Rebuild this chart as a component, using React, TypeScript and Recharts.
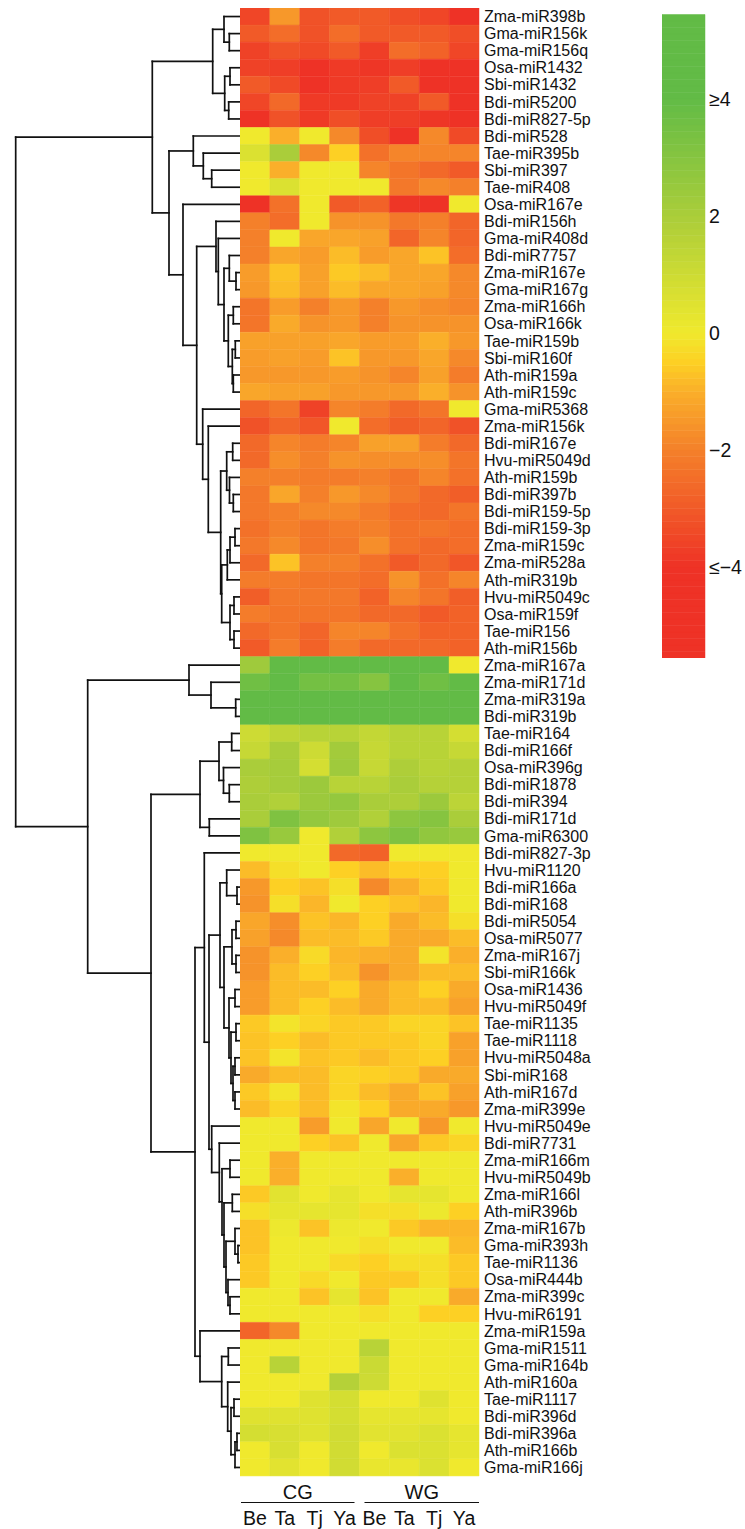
import React from "react";
import {
  BarChart,
  Bar,
  Cell,
  XAxis,
  YAxis,
  ScatterChart,
  Scatter,
  ComposedChart,
  ReferenceLine,
  ReferenceArea,
} from "recharts";

const FONT = '"Liberation Sans", Arial, Helvetica, sans-serif';

const groups = ["CG", "WG"];
const stages = ["Be", "Ta", "Tj", "Ya"];

const mirnas = [
  "Zma-miR398b", "Gma-miR156k", "Gma-miR156q", "Osa-miR1432", "Sbi-miR1432",
  "Bdi-miR5200", "Bdi-miR827-5p", "Bdi-miR528", "Tae-miR395b", "Sbi-miR397",
  "Tae-miR408", "Osa-miR167e", "Bdi-miR156h", "Gma-miR408d", "Bdi-miR7757",
  "Zma-miR167e", "Gma-miR167g", "Zma-miR166h", "Osa-miR166k", "Tae-miR159b",
  "Sbi-miR160f", "Ath-miR159a", "Ath-miR159c", "Gma-miR5368", "Zma-miR156k",
  "Bdi-miR167e", "Hvu-miR5049d", "Ath-miR159b", "Bdi-miR397b", "Bdi-miR159-5p",
  "Bdi-miR159-3p", "Zma-miR159c", "Zma-miR528a", "Ath-miR319b", "Hvu-miR5049c",
  "Osa-miR159f", "Tae-miR156", "Ath-miR156b", "Zma-miR167a", "Zma-miR171d",
  "Zma-miR319a", "Bdi-miR319b", "Tae-miR164", "Bdi-miR166f", "Osa-miR396g",
  "Bdi-miR1878", "Bdi-miR394", "Bdi-miR171d", "Gma-miR6300", "Bdi-miR827-3p",
  "Hvu-miR1120", "Bdi-miR166a", "Bdi-miR168", "Bdi-miR5054", "Osa-miR5077",
  "Zma-miR167j", "Sbi-miR166k", "Osa-miR1436", "Hvu-miR5049f", "Tae-miR1135",
  "Tae-miR1118", "Hvu-miR5048a", "Sbi-miR168", "Ath-miR167d", "Zma-miR399e",
  "Hvu-miR5049e", "Bdi-miR7731", "Zma-miR166m", "Hvu-miR5049b", "Zma-miR166l",
  "Ath-miR396b", "Zma-miR167b", "Gma-miR393h", "Tae-miR1136", "Osa-miR444b",
  "Zma-miR399c", "Hvu-miR6191", "Zma-miR159a", "Gma-miR1511", "Gma-miR164b",
  "Ath-miR160a", "Tae-miR1117", "Bdi-miR396d", "Bdi-miR396a", "Ath-miR166b",
  "Gma-miR166j",
];

// log2 fold change, columns: CG Be Ta Tj Ya, WG Be Ta Tj Ya
const expr = [
  [-3.5, -1.5, -3.2, -3, -3, -3.3, -3.5, -4],
  [-3, -2.5, -3.2, -2.5, -3, -3, -3, -3.3],
  [-3.6, -3.2, -3.4, -3, -3.7, -2.5, -2.8, -3.5],
  [-3.6, -3.7, -4.3, -3.8, -3.9, -3.7, -4.2, -4.5],
  [-3, -3.4, -4.3, -3.8, -3.7, -3, -4, -4.5],
  [-3.5, -2.6, -3.8, -3.8, -3.6, -3.6, -3, -4.3],
  [-4, -3.2, -3.8, -3.3, -3.7, -3.7, -3.9, -4.3],
  [0, -1, 0, -1.8, -3.3, -4.3, -1.8, -3.4],
  [0.6, 2, -1.8, -0.5, -2.4, -1.9, -1.9, -1.9],
  [0, -1, 0, 0, -1.9, -2.3, -2.6, -3],
  [0, 0.6, 0, 0, 0, -2.2, -1.8, -2],
  [-4, -2.4, 0, -3, -2.8, -3.9, -4, 0],
  [-2, -2.5, 0, -1.6, -1.6, -2.2, -2, -2.7],
  [-2, 0, -1.2, -1.2, -1.3, -2.7, -1.9, -2.7],
  [-2, -1.2, -1.4, -0.8, -1.4, -1.2, -0.7, -2.5],
  [-1.4, -0.7, -1.3, -0.6, -0.8, -1.2, -1.2, -1.8],
  [-1.5, -0.8, -1.3, -0.8, -1.2, -1.2, -1.3, -1.8],
  [-2.3, -1.4, -2, -1.5, -2, -1.5, -1.7, -1.9],
  [-2.3, -1.1, -1.6, -1.5, -2, -1.6, -1.6, -1.6],
  [-1.3, -1.3, -1.3, -1.2, -1.4, -1.4, -1, -1.5],
  [-1.4, -1.3, -1.4, -0.7, -1.5, -1.5, -1.2, -1.8],
  [-1.5, -1.5, -1.5, -1.4, -1.6, -1.9, -1.3, -2.1],
  [-1.2, -1.3, -1.3, -1.5, -1.5, -1.5, -1, -1.6],
  [-2.7, -2.3, -3.6, -1.9, -2.1, -2.6, -2.3, 0],
  [-3.2, -2.7, -3.1, 0, -2.5, -2.9, -2.7, -3.2],
  [-2.6, -1.9, -2.1, -1.9, -1.3, -1.3, -2.1, -2.6],
  [-2.6, -1.7, -2, -1.6, -1.7, -1.7, -1.7, -2.3],
  [-2, -2, -2.1, -2.1, -2, -2.3, -1.9, -2.4],
  [-2.2, -1.2, -2, -1.5, -1.8, -2.2, -2.6, -2.9],
  [-2.2, -2, -1.8, -1.8, -2.1, -2.5, -2.6, -2.3],
  [-2.4, -2, -2.3, -2.1, -2, -2.4, -2.3, -2.5],
  [-2.2, -1.8, -2.3, -2.2, -1.7, -2.4, -2.6, -2.5],
  [-2.6, -0.7, -2, -2, -2.4, -3, -2.6, -3.1],
  [-2.1, -2.1, -2.3, -2.3, -2.5, -1.6, -2.4, -1.9],
  [-2.9, -2.2, -2.2, -2.2, -2.8, -1.9, -2.3, -2.9],
  [-2.1, -2.3, -2.3, -2.3, -2.6, -2.6, -3, -2.8],
  [-2.6, -2.3, -2.7, -1.9, -1.9, -2.4, -2.8, -2.8],
  [-3, -2.1, -2.8, -2.1, -2.6, -2.6, -2.6, -2.8],
  [2.3, 4, 4, 4, 4, 4, 4, 0],
  [3.6, 4, 3.5, 3.5, 3, 4, 3.6, 4],
  [4, 4, 4, 4, 4, 4, 4, 4],
  [4, 4, 4, 4, 4, 4, 4, 4],
  [1, 1.4, 1.6, 1.6, 1.3, 1.6, 1.6, 0.8],
  [1.2, 2, 1, 2.2, 1.2, 1.6, 1.6, 1.2],
  [2, 2.1, 0.8, 2.3, 1.2, 1.9, 1.6, 1.7],
  [1.9, 2.1, 2.4, 1.6, 1.6, 2, 1.7, 1.7],
  [2, 1.8, 2.4, 2.6, 2, 1.9, 2.4, 1.5],
  [2, 3.2, 2.6, 2.3, 1.8, 2.8, 3, 2],
  [3.2, 2.5, 0, 1.8, 2.8, 3.2, 2.7, 2.5],
  [0, 0, 0, -2.6, -2.8, 0, 0, 0],
  [-0.8, -0.2, 0, -0.5, -0.8, -0.5, -0.5, 0],
  [-1.5, -0.5, -0.7, -0.2, -1.8, -1, -0.6, 0],
  [-1.6, -0.2, -0.9, 0, -0.5, -0.7, -0.9, 0],
  [-1.2, -1.7, -0.7, -0.9, -0.5, -1.1, -0.8, -0.2],
  [-1.3, -1.8, -0.8, -0.8, -0.6, -1.1, -1.1, -0.8],
  [-1.6, -1, -0.3, -0.9, -1, -1.1, -0.1, -1],
  [-1.6, -0.8, -0.5, -0.8, -1.6, -1.1, -0.8, -0.8],
  [-1.4, -0.8, -0.8, -0.5, -1.1, -0.8, -0.5, -1.1],
  [-1.4, -0.8, -0.5, -0.8, -1.1, -0.8, -0.8, -1.3],
  [-0.6, -0.1, -0.4, -0.6, -0.6, -0.4, -0.4, -0.7],
  [-0.7, -0.5, -0.8, -0.6, -0.6, -0.6, -0.4, -1.3],
  [-0.7, -0.1, -0.7, -0.6, -0.8, -0.6, -0.5, -1.3],
  [-1.1, -0.8, -0.8, -0.4, -0.5, -0.6, -1.1, -1.1],
  [-0.6, -0.1, -0.8, -0.4, -0.8, -1.1, -0.7, -1.3],
  [-0.8, -0.4, -0.8, -0.1, -0.5, -1.1, -1.1, -1.5],
  [0, 0, -1.4, 0, -1.2, 0, -1.5, 0],
  [0, 0, -0.5, -0.7, 0, -1.2, -0.6, -0.4],
  [0, -1, 0, 0, 0, 0, 0, 0],
  [0, -1, 0, 0, 0, -1, 0, 0],
  [-0.6, 0.4, 0, 0.3, 0, 0.3, 0.3, 0],
  [-0.2, 0.3, 0.3, 0.3, -0.2, -0.2, 0.1, -0.5],
  [-0.7, 0.1, -0.7, 0.1, 0, -0.6, -0.9, -0.9],
  [-0.7, 0, 0, 0, -0.2, 0, 0, -0.8],
  [-0.6, 0, 0, -0.3, -0.5, -0.2, -0.2, -0.6],
  [-0.6, 0, -0.3, 0, -0.6, -0.6, -0.2, -0.6],
  [0, 0, -0.7, 0.3, -0.7, 0, 0, -1.1],
  [0, 0, 0, 0, -0.2, 0, -0.5, -0.5],
  [-2.7, -1.8, 0, 0, 0, 0, 0, 0],
  [0, 0, 0, 0, 1.6, 0, 0, 0],
  [0, 1.6, 0, 0, 1.1, 0, 0, 0],
  [0, 0, 0, 1.7, 1, 0, 0, 0],
  [0, 0, 0.5, 0.8, 0, 0, 0.5, 0],
  [0.5, 0.5, 0.5, 0.8, 0.3, 0.3, 0.3, 0],
  [0.8, 0.7, 0.5, 0.9, 0.4, 0.4, 0.6, 0.3],
  [0, 0.7, 0, 0.9, 0, 0.6, 0.6, 0.3],
  [0, 0.4, 0, 0.9, 0.2, 0.2, 0.6, 0],
];

// row clustering: [left, right, height]; leaves are row numbers (1-based)
const tree = [
  [
    [
      [[1, [2, 3, 10.7], 16], [[4, 5, 10], [6, 7, 11.3], 15.3], 27.3],
      [
        [8, [9, [10, 11, 28.3], 36.7], 46.7],
        [
          12,
          [
            [13, [14, [[15, [16, 17, 4], 10.7], [[18, 19, 6.7], [[20, 21, 4.7], [22, 23, 6.7], 7.7], 11.7], 16], 21.7], 24],
            [
              24,
              [
                25,
                [
                  [[26, 27, 7.3], [28, [29, 30, 6.7], 10.5], 13.3],
                  [[[[31, 32, 5], 33, 10], 34, 12.7], [[35, 36, 6], [37, 38, 6], 10], 18.3],
                  19.3,
                ],
                31.7,
              ],
              37.3,
            ],
            43.3,
          ],
          57,
        ],
        71,
      ],
      87.7,
    ],
    [
      [39, [40, [41, 42, 4.3], 29], 51],
      [
        [[[43, 44, 8.3], [45, [46, 47, 10.7], 16.5], 21], [48, 49, 30.7], 40],
        [
          [
            50,
            [
              [
                [51, [52, 53, 3], 13.3],
                [[[54, 55, 4], [56, 57, 4], 8], [[58, 59, 5], [[60, 61, 4], [[62, 63, 5], [64, 65, 5], 7], 9], 11], 16],
                20,
              ],
              [66, [67, [[68, 69, 10], [[70, 71, 7.7], [[72, [73, 74, 2], 5], [75, [76, 77, 10], 12], 14], 16], 18], 20.7], 28.3],
              31,
            ],
            35.7,
          ],
          [78, [[79, 80, 11.7], [81, [[82, 83, 6], [[84, 85, 3], 86, 5], 9], 12.3], 18.3], 40],
          45,
        ],
        89,
      ],
      152.3,
    ],
    224.3,
  ],
];

const colorStops = [
  [-4, [238, 50, 38]],
  [-3, [241, 90, 40]],
  [-2, [244, 128, 42]],
  [-1, [250, 175, 42]],
  [-0.5, [253, 208, 36]],
  [0, [240, 233, 45]],
  [2, [170, 205, 58]],
  [4, [98, 187, 70]],
];

function colorFor(v: number) {
  const c = Math.max(-4, Math.min(4, v));
  for (let i = 0; i < colorStops.length - 1; i++) {
    const [a, ca] = colorStops[i] as [number, number[]];
    const [b, cb] = colorStops[i + 1] as [number, number[]];
    if (c >= a && c <= b) {
      const t = (c - a) / (b - a);
      const rgb = ca.map((x, k) => Math.round(x + (cb[k] - x) * t));
      return `rgb(${rgb.join(",")})`;
    }
  }
  return "rgb(98,187,70)";
}

function dendroSegments(node: any, out: any[]) {
  if (typeof node === "number") return { y: node - 0.5, h: 0 };
  const [l, r, h] = node;
  const a = dendroSegments(l, out);
  const b = dendroSegments(r, out);
  out.push([{ x: a.h, y: a.y }, { x: h, y: a.y }]);
  out.push([{ x: b.h, y: b.y }, { x: h, y: b.y }]);
  out.push([{ x: h, y: a.y }, { x: h, y: b.y }]);
  return { y: (a.y + b.y) / 2, h };
}

const segments: any[] = [];
dendroSegments(tree[0], segments);

const columns = groups.flatMap((g) => stages.map((s) => `${g}-${s}`));
const heatData = mirnas.map((name) => {
  const row: any = { name };
  columns.forEach((c) => (row[c] = 1));
  return row;
});
const leafPoints = mirnas.map((_, i) => ({ h: 0, y: i + 0.5 }));

const PLOT_W = 239;
const colW = PLOT_W / columns.length;

const ColTick = (props: any) => {
  const { x, y, payload } = props;
  const j = Math.floor(payload.value);
  const stage = stages[j % stages.length];
  const first = j % stages.length === 0;
  const gi = Math.floor(j / stages.length);
  const left = x - colW / 2 + (gi === 0 ? 1 : 5);
  const right = x - colW / 2 + colW * stages.length - (gi === 0 ? 5 : 0);
  return (
    <g>
      {first && (
        <>
          <text x={(left + right) / 2} y={y + 16} textAnchor="middle" dominantBaseline="central" fontSize={20} fill="#111">
            {groups[gi]}
          </text>
          <line x1={left} x2={right} y1={y + 26.5} y2={y + 26.5} stroke="#111" strokeWidth={1.2} />
        </>
      )}
      <text x={x} y={y + 42} textAnchor="middle" dominantBaseline="central" fontSize={19.5} fill="#111">
        {stage}
      </text>
    </g>
  );
};

const legendTicks = [4, 2, 0, -2, -4];
const legendLabel = (v: number) =>
  v === 4 ? "≥4" : v === -4 ? "≤−4" : v < 0 ? `−${Math.abs(v)}` : `${v}`;
const legendMax = 5.55;
const legendBands = Array.from({ length: 100 }, (_, i) => {
  const step = (2 * legendMax) / 100;
  const y1 = -legendMax + i * step;
  return { y1, y2: y1 + step, mid: y1 + step / 2 };
});

export default function App() {
  return (
    <div
      style={{
        position: "absolute",
        left: 0,
        top: 0,
        width: 745,
        height: 1529,
        background: "#fff",
        fontFamily: FONT,
        overflow: "hidden",
      }}
    >
      <div style={{ position: "absolute", left: 0, top: 8.3 }}>
        <ScatterChart width={240} height={1468} margin={{ top: 0, right: 0, bottom: 0, left: 0 }}>
          <XAxis type="number" dataKey="h" domain={[0, 240]} reversed hide />
          <YAxis type="number" dataKey="y" domain={[0, mirnas.length]} reversed hide />
          <Scatter data={leafPoints} fill="none" isAnimationActive={false} />
          {segments.map((s, i) => (
            <ReferenceLine
              key={i}
              segment={s}
              stroke="#111"
              strokeWidth={1.7}
              strokeLinecap="square"
              ifOverflow="visible"
            />
          ))}
        </ScatterChart>
      </div>

      <div style={{ position: "absolute", left: 240, top: 8.3 }}>
        <BarChart
          width={419}
          height={1521}
          data={heatData}
          layout="vertical"
          barCategoryGap={0}
          margin={{ top: 0, right: 0, bottom: 0, left: 0 }}
        >
          <XAxis
            type="number"
            domain={[0, columns.length]}
            ticks={columns.map((_, j) => j + 0.5)}
            interval={0}
            tick={<ColTick />}
            axisLine={false}
            tickLine={false}
            tickSize={0}
            tickMargin={0}
            height={53}
          />
          <YAxis
            type="category"
            dataKey="name"
            orientation="right"
            width={180}
            interval={0}
            axisLine={false}
            tickLine={false}
            tickSize={2}
            tickMargin={3}
            tick={{ fontSize: 16, fill: "#111" }}
          />
          {columns.map((c, j) => (
            <Bar key={c} dataKey={c} stackId="hm" isAnimationActive={false}>
              {expr.map((row, i) => (
                <Cell key={i} fill={colorFor(row[j])} stroke={colorFor(row[j])} strokeWidth={0.5} />
              ))}
            </Bar>
          ))}
        </BarChart>
      </div>

      <div style={{ position: "absolute", left: 662, top: 8 }}>
        <ComposedChart width={83} height={650} margin={{ top: 0, right: 0, bottom: 0, left: 0 }}>
          <XAxis type="number" dataKey="x" domain={[0, 1]} hide />
          <YAxis
            type="number"
            dataKey="y"
            orientation="right"
            domain={[-legendMax, legendMax]}
            ticks={legendTicks}
            tickFormatter={legendLabel}
            width={40}
            axisLine={false}
            tickLine={false}
            tickSize={2}
            tickMargin={2}
            tick={{ fontSize: 19.5, fill: "#111" }}
          />
          <Scatter data={[{ x: 0.5, y: 0 }]} fill="none" isAnimationActive={false} />
          {legendBands.map((b, i) => (
            <ReferenceArea
              key={i}
              x1={0}
              x2={1}
              y1={b.y1}
              y2={b.y2}
              fill={colorFor(b.mid)}
              fillOpacity={1}
              stroke={colorFor(b.mid)}
              strokeWidth={0.5}
            />
          ))}
        </ComposedChart>
      </div>
    </div>
  );
}
